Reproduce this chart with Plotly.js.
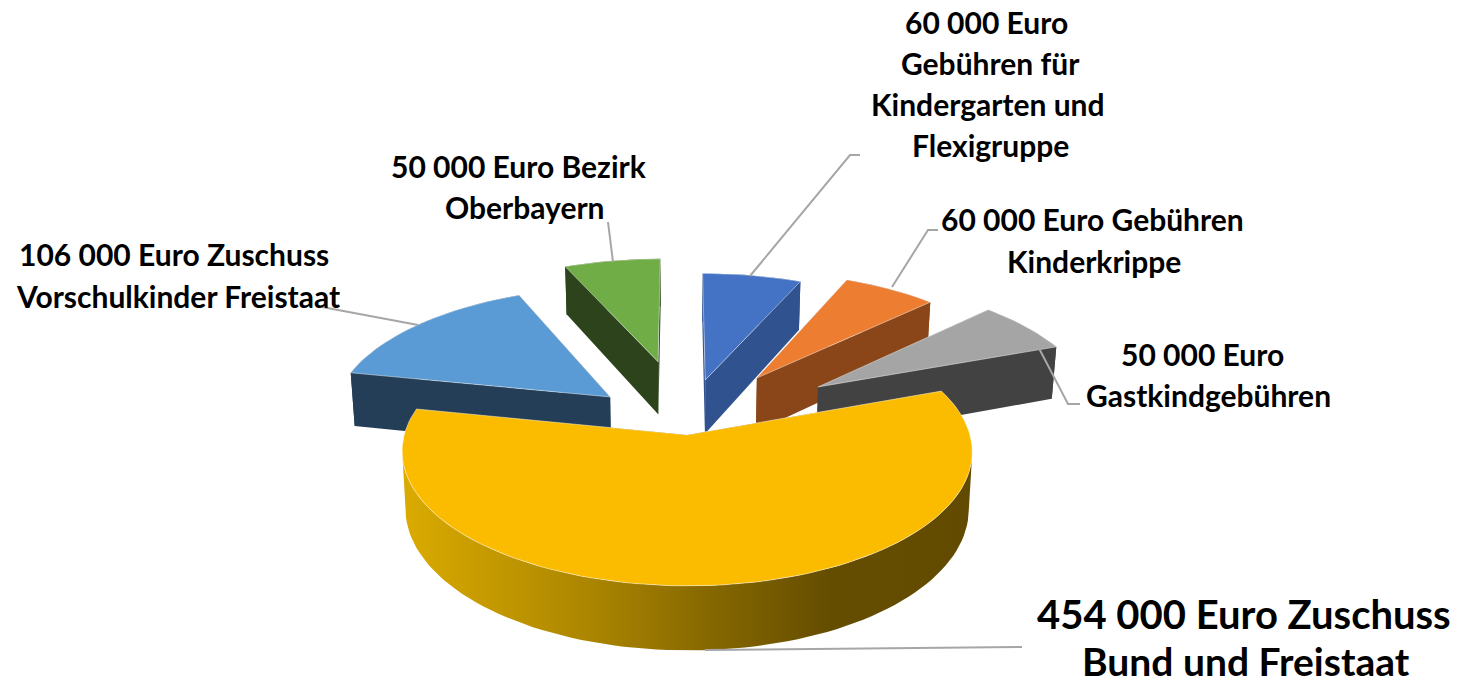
<!DOCTYPE html>
<html><head><meta charset="utf-8">
<script src="https://cdn.plot.ly/plotly-3.0.1.min.js"></script>
<style>html,body{margin:0;padding:0;background:#fff;overflow:hidden}</style>
</head><body><div id="chart" style="width:1467px;height:686px"></div>
<script>
// Data, clockwise from twelve o'clock
const categories = ["Gebühren für Kindergarten und Flexigruppe","Gebühren Kinderkrippe","Gastkindgebühren","Zuschuss Bund und Freistaat","Zuschuss Vorschulkinder Freistaat","Bezirk Oberbayern"];
const euroValues = [60000,60000,50000,454000,106000,50000];

// Styles
const topColors  = ["#4472C4","#ED7D31","#A5A5A5","#FBBC00","#5B9BD5","#70AD47"];
const wallColors = ["#30538F","#8A4619","#424242","#6A5000","#233E56","#2C431C"];
const yellowWallScale = [[0,"#DBAB00"],[0.35,"#A88300"],[0.55,"#846600"],[0.75,"#654D00"],[1,"#624A00"]];

// View of the 3D pie: how the disc is tilted and pulled apart
const view = {cx:680, cy:405, A:275, B:125, k:0.12, depth:55, shrink:0.988};
const pullX = [0.094,0.287,0.511,0.025,-0.256,-0.083];
const pullY = [0.205,0.222,0.147,-0.233,0.065,0.36];
// The perspective of the source squeezes the angles a little; degrees added at each slice boundary
const boundaryWarp = [0,-3.95,-9.1,-8.7,-6.4,-0.4,0];
const drawOrder = [5,0,1,2,4,3];

// Label lines
const labelLines = [
  ["60 000 Euro",986,22,30],["Gebühren für",990,63,30],["Kindergarten und",988,104,30],["Flexigruppe",990,145,30],
  ["60 000 Euro Gebühren",1092,219,30],["Kinderkrippe",1094,261,30],
  ["50 000 Euro",1202,354,30],["Gastkindgebühren",1208,395,30],
  ["50 000 Euro Bezirk",519,166,30],["Oberbayern",525,207,30],
  ["106 000 Euro Zuschuss",174,254,30],["Vorschulkinder Freistaat",178,296,30],
  ["454 000 Euro Zuschuss",1244,614,40],["Bund und Freistaat",1246,661,39]
];
const leaders = [
  "M 608 222 L 613 262",
  "M 322 307 L 418 325",
  "M 860 155 L 850 155 L 750 276",
  "M 938 230 L 928 230 L 892 287",
  "M 1080 404 L 1068 404 L 1030 331",
  "M 705 650 L 1022 647"
];

function project(X,Y,low){
  const d = 1+view.k*Y;
  const sh = low ? view.shrink : 1;
  return [view.cx + view.A*X/d*sh, view.cy - view.B*Y/d + (low ? view.depth/d : 0)];
}
const total = euroValues.reduce((a,b)=>a+b,0);
const bounds = [0];
euroValues.forEach((v,i)=>bounds.push(bounds[i]+v/total*360));
const edges = bounds.map((b,i)=>b+boundaryWarp[i]);

function rim(i,low){
  const a0 = edges[i], a1 = edges[i+1], n = Math.max(6,Math.round((a1-a0)/2));
  const pts = [];
  for(let j=0;j<=n;j++){
    const t = (a0+(a1-a0)*j/n)*Math.PI/180;
    pts.push(project(pullX[i]+Math.sin(t),pullY[i]+Math.cos(t),low));
  }
  return pts;
}
function poly(pts,color,extra){
  return Object.assign({
    type:"scatter",mode:"lines",x:pts.map(p=>p[0]),y:pts.map(p=>p[1]),
    fill:"toself",fillcolor:color,line:{width:0,color:color},hoverinfo:"skip",showlegend:false
  },extra||{});
}
function outerWall(up,lo){
  // only the part of the rim between its side extremes faces the viewer
  let iL=0,iR=0;
  up.forEach((p,j)=>{ if(p[0]<up[iL][0]) iL=j; if(p[0]>up[iR][0]) iR=j; });
  let a=0,b=up.length-1;
  if(iR<iL){a=iR;b=iL;}
  const w = up.slice(a,b+1).concat(lo.slice(a,b+1).reverse());
  w.push(up[a]);
  return w;
}
const traces = [];
drawOrder.forEach(i=>{
  const up = rim(i,false), lo = rim(i,true);
  const aU = project(pullX[i],pullY[i],false), aL = project(pullX[i],pullY[i],true);
  const last = up.length-1;
  // two cut faces
  traces.push(poly([aU,up[0],lo[0],aL,aU],wallColors[i]));
  traces.push(poly([aU,up[last],lo[last],aL,aU],wallColors[i]));
  // outer wall
  const extra = i===3 ? {fillgradient:{type:"horizontal",colorscale:yellowWallScale}} : {};
  traces.push(poly(outerWall(up,lo),wallColors[i],extra));
  // top face
  const top = [aU].concat(up); top.push(aU);
  traces.push(poly(top,topColors[i],{name:categories[i],line:{width:1,color:"rgba(255,255,255,0.45)"}}));
});

const layout = {
  width:1467,height:686,margin:{l:0,r:0,t:0,b:0},paper_bgcolor:"#fff",plot_bgcolor:"#fff",showlegend:false,
  xaxis:{range:[0,1467],visible:false,fixedrange:true},
  yaxis:{range:[686,0],visible:false,fixedrange:true},
  shapes:leaders.map(p=>({type:"path",path:p,xref:"x",yref:"y",line:{color:"#A6A6A6",width:2},layer:"above"})),
  annotations:labelLines.map(l=>({text:l[0],x:l[1],y:l[2],xref:"x",yref:"y",showarrow:false,xanchor:"center",yanchor:"middle",
    font:{family:"Lato, Carlito, sans-serif",size:l[3],weight:700,color:"#000"}}))
};
Plotly.newPlot("chart",traces,layout,{staticPlot:true,displayModeBar:false});
</script></body></html>
